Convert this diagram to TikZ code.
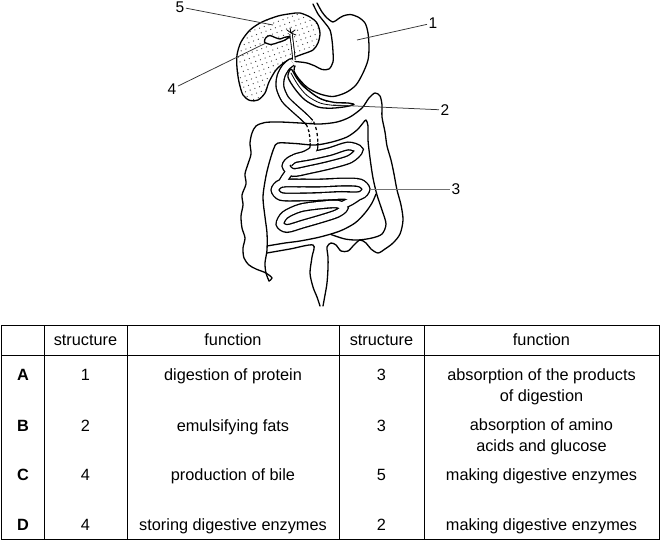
\documentclass[tikz,border=0pt]{standalone}
\usepackage{fontspec}
\setmainfont{Liberation Sans}
\usetikzlibrary{patterns.meta}
\tikzset{
  organ/.style={black, line width=1.3pt, line join=round, line cap=round},
  tubeout/.style={black, line width=9pt},
  tubein/.style={white, line width=6.3pt},
  duct/.style={black, double=white, double distance=1.5pt, line width=0.9pt},
  leader/.style={black!80, line width=0.75pt},
  lbl/.style={font=\fontsize{15.5}{18}\selectfont, inner sep=1.5pt},
  tbl/.style={black, line width=0.9pt},
  cell/.style={font=\fontsize{16.3}{21}\selectfont, align=center, inner sep=0pt},
  cellone/.style={cell, text height=11.5pt, text depth=3.4pt},
}
\def\duodenumtop{plot[smooth] coordinates {(292,62) (286,67) (281,76) (280,87) (285,99) (294,108) (303,116) (310,123)}}
\def\duodenummid{plot[smooth] coordinates {(310,123) (313,132) (314,143)}}
\def\duodenumlow{plot[smooth] coordinates {(314,143) (313,150) (305,155) (295,158) (289,163)}}
\def\coilone{plot[smooth cycle] coordinates {(286,166) (292,159.5) (310,156) (330,151.5) (348,146) (359,150) (350,159) (330,165) (310,169.5) (293,172.5)}}
\def\coiltwo{plot[smooth cycle] coordinates {(275,190) (281,183.5) (300,183) (320,183) (345,182) (360,183) (366,189) (360,195.5) (340,195.5) (320,196.5) (300,197) (281,196.5)}}
\def\coilthree{plot[smooth cycle] coordinates {(280,224) (285,215) (300,208) (320,205) (337,204) (344,208) (337,213.5) (322,218.5) (303,224) (287,228.5)}}
\def\linkonetwo{plot[smooth] coordinates {(290,171) (285,178) (281,185)}}
\def\linktwothree{plot[smooth] coordinates {(360,195) (351,201) (341,206)}}

\begin{document}
\begin{tikzpicture}[x=1pt, y=-1pt]
\useasboundingbox (0,0) rectangle (661,543);
% \draw[gray, very thin] (0,0) grid[step=20] (661,543);

\draw[organ, pattern={Dots[distance=5pt, radius=0.65pt, angle=20]}, pattern color=black!75] plot[smooth cycle] coordinates {(300,13) (310,17) (317,23) (320,33) (318,43) (313,50) (303,54) (295,57) (285,62) (276,70) (269,82) (265,93) (258,100) (250,100.5) (243,95) (239,82) (237,68) (237,55) (241,42) (250,30) (262,22) (278,16) (292,13.5)};
\draw[organ, fill=white] plot[smooth cycle] coordinates {(264.5,42) (266,37.5) (270,35.5) (275,37.5) (280,39) (284,37.5) (290,36.5) (284,40.5) (278,42.5) (271,44.5)};

\draw[tubeout] \duodenumtop;
\draw[tubeout, dash pattern=on 3pt off 2.5pt] \duodenummid;
\draw[tubeout] \duodenumlow;
\draw[tubeout] \coilone;
\draw[tubeout] \linkonetwo;
\draw[tubeout] \coiltwo;
\draw[tubeout] \linktwothree;
\draw[tubeout] \coilthree;
\draw[tubein] \duodenumtop;
\draw[tubein] \duodenummid;
\draw[tubein] \duodenumlow;
\draw[tubein] \coilone;
\draw[tubein] \linkonetwo;
\draw[tubein] \coiltwo;
\draw[tubein] \linktwothree;
\draw[tubein] \coilthree;

\draw[organ, fill=white] plot[smooth cycle] coordinates {(291,69) (296,77) (302,85) (311,92.5) (321,99) (335,102.5) (348,103) (354,104.5) (345,106.8) (331,108.2) (318,107) (305,100) (295,89) (288,77)};
\draw[organ, line width=0.8pt] plot[smooth] coordinates {(291,73) (298,85) (307,95.5) (320,103) (335,105.5) (348,105.5)};
\draw[organ, line width=0.7pt] plot[smooth] coordinates {(294,72) (303,85) (314,95) (327,101.5)};
\draw[organ] plot[smooth] coordinates {(313,4) (318,14) (325,23) (330,30) (332,40) (333,52) (333,62) (329,69) (322,69.5) (315,66) (307,63) (300,62) (295,61.5)};
\draw[organ] plot[smooth] coordinates {(317,3) (322,12) (327,18) (333,22) (338,19) (343,16) (350,14.5) (358,17) (365,23) (368,33) (369,47) (368,60) (363,73) (356,85) (346,92.5) (333,96.5) (320,94) (308,88) (299,79) (294,71) (295,66)};

\draw[duct] plot[smooth] coordinates {(291,34) (292,42) (293,50) (294,60)};
\draw[organ, line width=0.8pt] (291,33) -- (287,30) (291,33) -- (290,28) (291,33) -- (295,30) (291,33) -- (296,35);

\draw[organ] plot[smooth] coordinates {(269,281) (272,278) (266,273) (256,269) (249,265) (244,258) (243,248) (245,238) (242,228) (241,216) (243,205) (242,195) (246,184) (245,174) (248,164) (251,154) (250,143) (252,133) (256,126) (265,122.5) (280,122) (300,123) (320,124) (337,122) (350,117) (362,108) (369,98) (375,93) (380,96) (382,105) (382,117) (385,132) (387,146) (391,160) (394,174) (397,190) (401,205) (403,220) (400,234) (393,243) (385,249) (378,253) (371,249) (366,243) (360,240) (354,245) (348,251) (341,251) (336,245) (331,243) (327,247) (328,257) (328,268) (327,283) (325,295) (323,306)};
\draw[organ] plot[smooth] coordinates {(269,281) (266,273) (265,263) (267,250) (267,233) (265,217) (263,197) (266,176) (270,160) (274,148) (278,143) (295,143.5) (315,145) (332,142) (347,137) (357,130) (363,123) (366,120) (368,126) (368,140) (370,158) (373,178) (377,195) (382,210) (386,224) (382,234) (372,238) (358,240) (345,239) (331,234.5)};
\draw[organ] plot[smooth] coordinates {(267,246) (285,243) (300,241) (320,237) (340,231) (355,223) (365,213) (372,203) (376,194)};
\draw[organ] plot[smooth] coordinates {(267,253) (290,249) (313,245) (312,257) (310,273) (313,287) (317,297) (320,306)};

\node[lbl] (n5) at (180,7) {5};
\node[lbl] (n4) at (172,89) {4};
\node[lbl] (n1) at (433,23) {1};
\node[lbl] (n2) at (445,110) {2};
\node[lbl] (n3) at (456,189) {3};
\coordinate (p5) at (273,25);
\coordinate (p4) at (266,43);
\coordinate (p1) at (357,40);
\coordinate (p2) at (333,105);
\coordinate (p3) at (370,189);
\draw[leader] (n5) -- (p5);
\draw[leader] (n4) -- (p4);
\draw[leader] (n1) -- (p1);
\draw[leader] (n2) -- (p2);
\draw[leader, black!55] (n3) -- (p3);

\draw[tbl] (1.5,325) rectangle (659.5,539);
\draw[tbl] (1.5,355) -- (659.5,355);
\foreach \x in {44,127,339,424} \draw[tbl] (\x,325) -- (\x,539);

\node[cellone] (h1) at (85.5,341) {structure};
\node[cellone] (h2) at (233,341) {function};
\node[cellone] (h3) at (381.5,341) {structure};
\node[cellone] (h4) at (541.5,341) {function};

\node[cellone] (a0) at (23,376) {\textbf{A}};
\node[cellone] (a1) at (85.5,376) {1};
\node[cellone] (a2) at (233,376) {digestion of protein};
\node[cellone] (a3) at (381.5,376) {3};
\node[cell] (a4) at (541.5,386.5) {absorption of the products\\of digestion};

\node[cellone] (b0) at (23,427) {\textbf{B}};
\node[cellone] (b1) at (85.5,427) {2};
\node[cellone] (b2) at (233,427) {emulsifying fats};
\node[cellone] (b3) at (381.5,427) {3};
\node[cell] (b4) at (541.5,437) {absorption of amino\\acids and glucose};

\node[cellone] (c0) at (23,476) {\textbf{C}};
\node[cellone] (c1) at (85.5,476) {4};
\node[cellone] (c2) at (233,476) {production of bile};
\node[cellone] (c3) at (381.5,476) {5};
\node[cellone] (c4) at (541.5,476) {making digestive enzymes};

\node[cellone] (d0) at (23,526) {\textbf{D}};
\node[cellone] (d1) at (85.5,526) {4};
\node[cellone] (d2) at (233,526) {storing digestive enzymes};
\node[cellone] (d3) at (381.5,526) {2};
\node[cellone] (d4) at (541.5,526) {making digestive enzymes};
\end{tikzpicture}
\end{document}
